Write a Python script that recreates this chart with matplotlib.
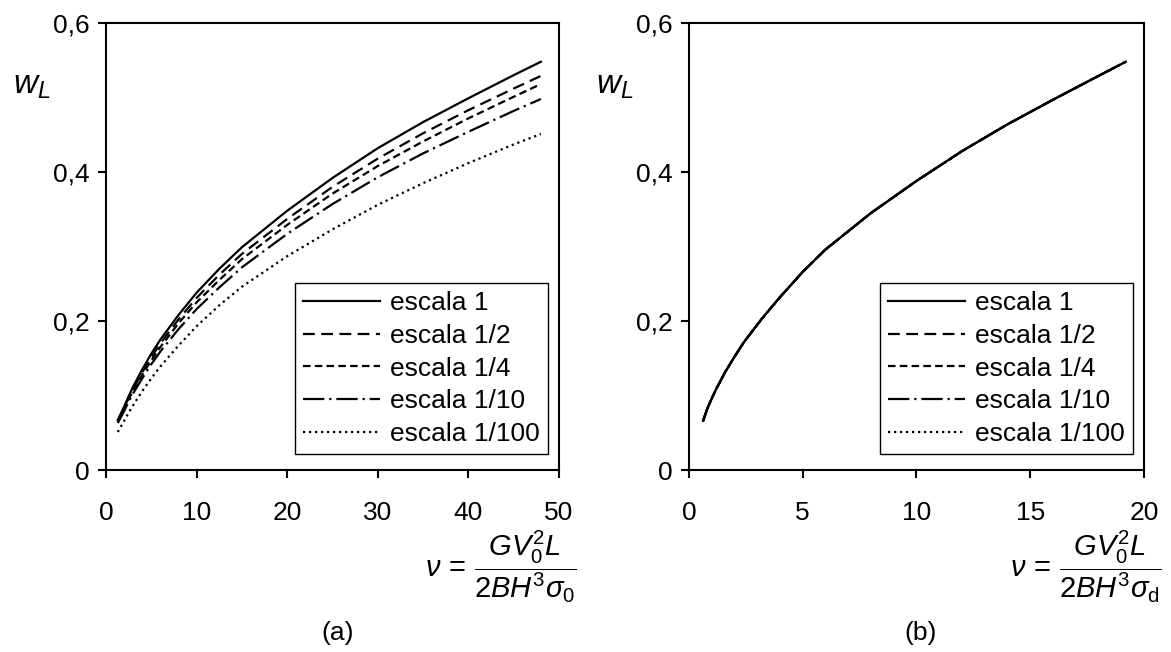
import matplotlib.pyplot as plt
from matplotlib.ticker import FuncFormatter

plt.rcParams['font.family'] = ['Liberation Sans', 'DejaVu Sans']
plt.rcParams['mathtext.fontset'] = 'custom'
plt.rcParams['mathtext.rm'] = 'Liberation Sans'
plt.rcParams['mathtext.it'] = 'Liberation Sans:italic'
plt.rcParams['mathtext.bf'] = 'Liberation Sans:bold'

labels = ["escala 1", "escala 1/2", "escala 1/4", "escala 1/10", "escala 1/100"]

# (a) nu referido a sigma_0
nu_a = [1.3, 2, 2.5, 3, 4, 5, 6, 8, 10, 12.5, 15, 20, 25, 30, 35, 40, 45, 48]
w_a_1 = [0.067, 0.085, 0.099, 0.112, 0.135, 0.156, 0.175, 0.208, 0.238, 0.270, 0.299, 0.348, 0.392, 0.432, 0.467, 0.499, 0.530, 0.548]
w_a_2 = [0.066, 0.083, 0.097, 0.109, 0.131, 0.151, 0.170, 0.202, 0.231, 0.262, 0.290, 0.337, 0.380, 0.418, 0.452, 0.483, 0.512, 0.529]
w_a_4 = [0.065, 0.082, 0.095, 0.107, 0.128, 0.147, 0.165, 0.197, 0.225, 0.255, 0.283, 0.329, 0.371, 0.408, 0.441, 0.472, 0.501, 0.518]
w_a_10 = [0.063, 0.079, 0.092, 0.103, 0.123, 0.142, 0.159, 0.189, 0.216, 0.245, 0.272, 0.317, 0.357, 0.393, 0.425, 0.454, 0.482, 0.498]
w_a_100 = [0.051, 0.066, 0.077, 0.087, 0.106, 0.123, 0.139, 0.167, 0.193, 0.221, 0.246, 0.287, 0.323, 0.356, 0.385, 0.412, 0.437, 0.451]

# (b) nu referido a sigma_d: todas las escalas coinciden
nu_b = [0.62, 0.8, 1.0, 1.2, 1.6, 2.0, 2.4, 3.2, 4, 5, 6, 8, 10, 12, 14, 16, 18, 19.2]
w_b = [0.066, 0.082, 0.096, 0.109, 0.132, 0.152, 0.171, 0.203, 0.232, 0.266, 0.296, 0.345, 0.388, 0.428, 0.464, 0.497, 0.529, 0.548]

series_a = [w_a_1, w_a_2, w_a_4, w_a_10, w_a_100]
series_b = [w_b, w_b, w_b, w_b, w_b]

styles = ['-', (0, (5.3, 2.9)), (0, (3.4, 1.9)), (0, (9.6, 2.2, 1.0, 2.2)), (0, (1.0, 1.7))]

fig = plt.figure(figsize=(11.71, 6.52), dpi=100)
ax1 = fig.add_axes([106 / 1171, 1 - 470 / 652, 453 / 1171, 447 / 652])
ax2 = fig.add_axes([689 / 1171, 1 - 470 / 652, 455 / 1171, 447 / 652])

comma = FuncFormatter(lambda v, p: ('%g' % v).replace('.', ','))

for ax, nu, series, xmax, xstep, sub in [(ax1, nu_a, series_a, 50, 10, '0'),
                                         (ax2, nu_b, series_b, 20, 5, r'\mathrm{d}')]:
    for w, ls, lab in zip(series, styles, labels):
        ax.plot(nu, w, color='black', linestyle=ls, linewidth=1.6, label=lab)
    ax.set_xlim(0, xmax)
    ax.set_ylim(0, 0.6)
    ax.set_xticks(range(0, xmax + 1, xstep))
    ax.set_yticks([0, 0.2, 0.4, 0.6])
    ax.yaxis.set_major_formatter(comma)
    ax.tick_params(direction='out', length=6, width=1.5, labelsize=19)
    ax.tick_params(axis='x', pad=16)
    ax.tick_params(axis='y', pad=6)
    for s in ax.spines.values():
        s.set_linewidth(1.5)
    leg = ax.legend(loc='lower right', bbox_to_anchor=(0.976, 0.036), borderaxespad=0,
                    fontsize=19, handlelength=2.9, handletextpad=0.4, labelspacing=0.33,
                    borderpad=0.3, fancybox=False, framealpha=1, edgecolor='black')
    leg.get_frame().set_linewidth(1.0)
    ax.text(-0.205, 0.86, r'$w_L$', transform=ax.transAxes, fontsize=24, va='center', ha='left')
    ax.text(1.04, -0.217, r'$\nu\,=\,\dfrac{GV_0^2L}{2BH^3\sigma_%s}$' % sub,
            transform=ax.transAxes, fontsize=21, ha='right', va='center')

fig.text(338 / 1171, 1 - 633 / 652, '(a)', fontsize=19, ha='center', va='center')
fig.text(921 / 1171, 1 - 633 / 652, '(b)', fontsize=19, ha='center', va='center')

fig.savefig('out.png', dpi=100)
